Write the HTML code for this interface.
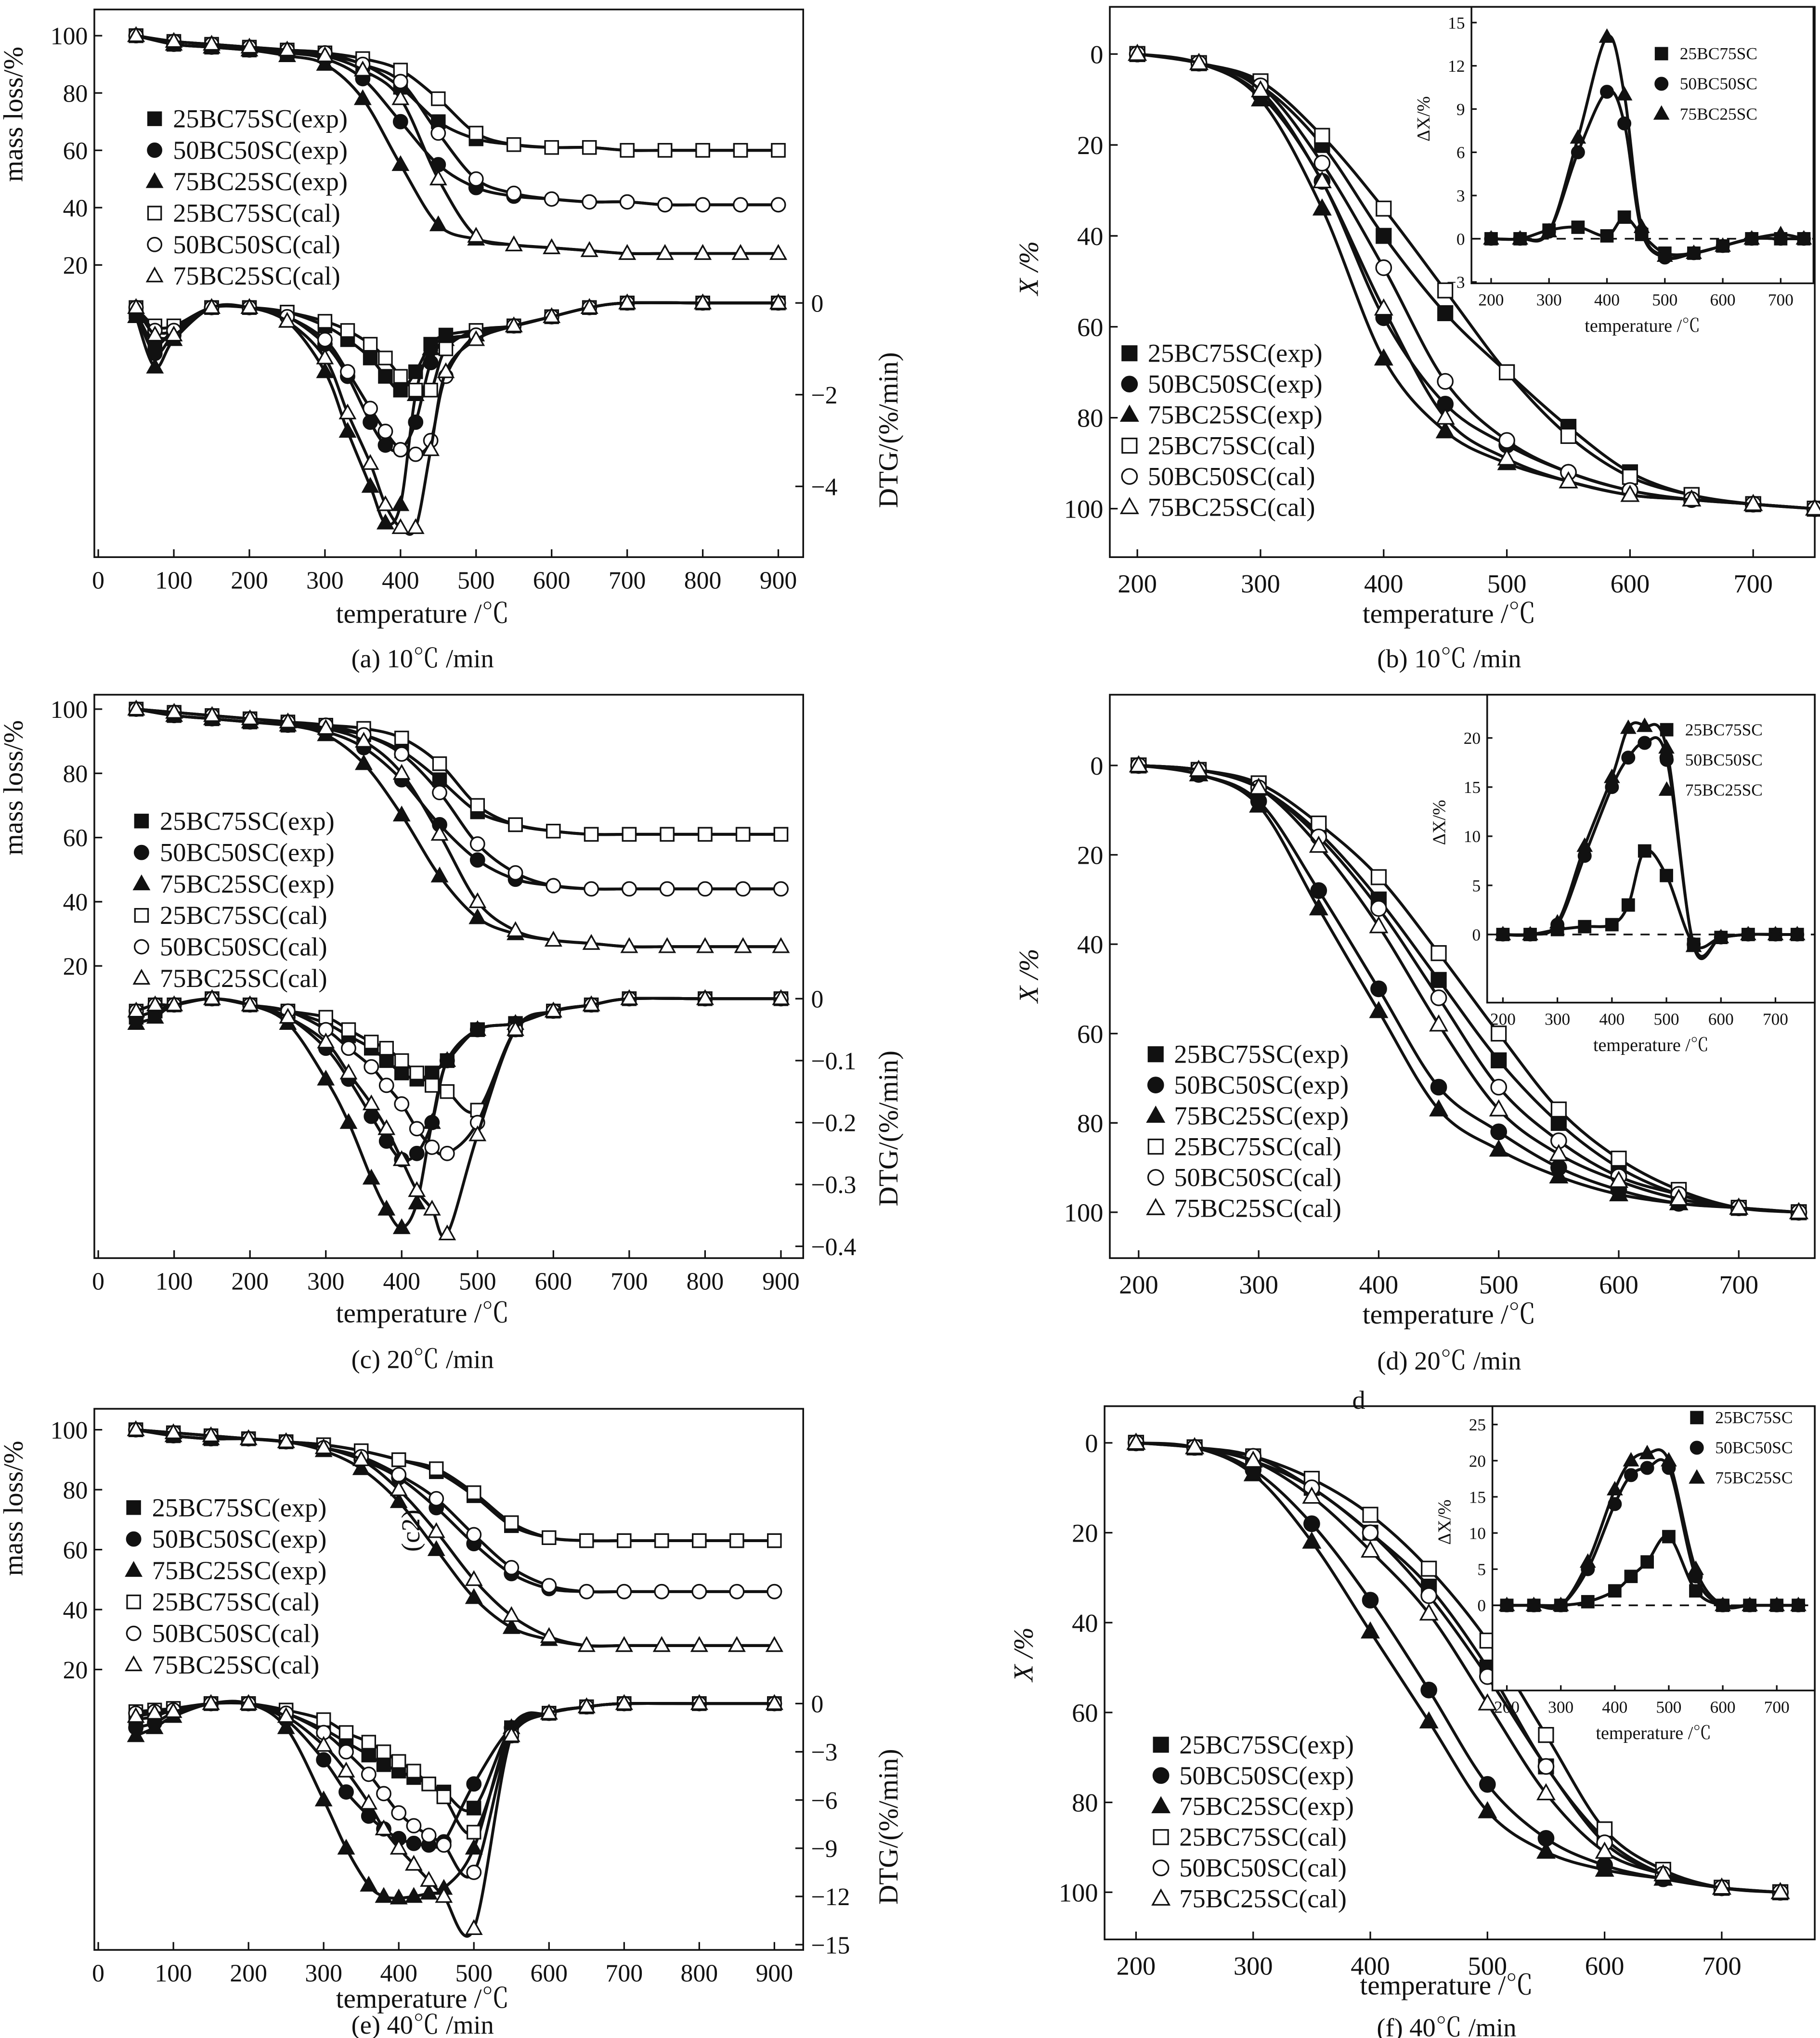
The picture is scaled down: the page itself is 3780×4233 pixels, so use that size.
<!DOCTYPE html>
<html><head><meta charset="utf-8"><style>
html,body{margin:0;padding:0;background:#fff}
svg{display:block}
text{font-family:"Liberation Serif","Noto Serif CJK SC",serif;fill:#111}
</style></head><body>
<svg id="fig" width="3780" height="4233" viewBox="0 0 1389 1555" xmlns="http://www.w3.org/2000/svg"></svg>
<script>
// ---------- DATA ----------
const mlT = [50,100,150,200,250,300,350,400,450,500,550,600,650,700,750,800,850,900];
const dtgT = [50,75,100,150,200,250,300,330,360,380,400,420,440,460,500,550,600,650,700,800,900];
const xT = [200,250,300,350,400,450,500,550,600,650,700,750];
const dxT = [200,250,300,350,400,430,460,500,550,600,650,700,740];
const seriesNames = ["25BC75SC(exp)","50BC50SC(exp)","75BC25SC(exp)","25BC75SC(cal)","50BC50SC(cal)","75BC25SC(cal)"];
const insetNames = ["25BC75SC","50BC50SC","75BC25SC"];
// panel a
const aMass = [
 [100,97,96,95,94,93,90,82,70,64,62,61,61,60,60,60,60,60],
 [100,97,96,95,94,92,85,70,55,47,44,43,42,42,41,41,41,41],
 [100,97,96,95,93,90,78,55,34,29,27,26,25,24,24,24,24,24],
 [100,98,97,96,95,94,92,88,78,66,62,61,61,60,60,60,60,60],
 [100,98,97,96,95,94,90,84,66,50,45,43,42,42,41,41,41,41],
 [100,98,97,96,95,93,88,78,50,30,27,26,25,24,24,24,24,24]];
const aDtg = [
 [-0.2,-0.9,-0.6,-0.1,-0.1,-0.2,-0.5,-0.8,-1.2,-1.6,-1.9,-1.5,-0.9,-0.7,-0.6,-0.5,-0.3,-0.1,0,0,0],
 [-0.2,-1.1,-0.7,-0.1,-0.1,-0.3,-0.9,-1.6,-2.6,-3.1,-3.2,-2.6,-1.3,-0.8,-0.7,-0.5,-0.3,-0.1,0,0,0],
 [-0.3,-1.4,-0.8,-0.1,-0.1,-0.4,-1.5,-2.8,-4.0,-4.8,-4.4,-2.0,-1.0,-0.8,-0.7,-0.5,-0.3,-0.1,0,0,0],
 [-0.1,-0.5,-0.5,-0.1,-0.1,-0.2,-0.4,-0.6,-0.9,-1.2,-1.6,-1.9,-1.9,-1.0,-0.6,-0.5,-0.3,-0.1,0,0,0],
 [-0.1,-0.6,-0.6,-0.1,-0.1,-0.3,-0.8,-1.5,-2.3,-2.8,-3.2,-3.3,-3.0,-1.6,-0.7,-0.5,-0.3,-0.1,0,0,0],
 [-0.1,-0.7,-0.7,-0.1,-0.1,-0.4,-1.2,-2.4,-3.5,-4.4,-4.9,-4.9,-3.2,-1.5,-0.8,-0.5,-0.3,-0.1,0,0,0]];
const bX = [
 [0,2,7,20,40,57,70,82,92,97,99,100],
 [0,2,9,28,58,77,86,92,96,98,99,100],
 [0,2,10,34,67,83,90,94,97,98,99,100],
 [0,2,6,18,34,52,70,84,93,97,99,100],
 [0,2,7,24,47,72,85,92,96,98,99,100],
 [0,2,8,28,56,80,89,94,97,98,99,100]];
const bDx = [
 [0,0,0.6,0.8,0.2,1.5,0.3,-1,-1,-0.5,0,0,0],
 [0,0,0.5,6,10.2,8,0.5,-1.3,-1,-0.5,0,0,0],
 [0,0,0.5,7,14,10,0.8,-1.2,-1,-0.5,0,0.3,0]];
// panel c
const cMass = [
 [100,98,97,96,95,94,92,87,78,68,64,62,61,61,61,61,61,61],
 [100,98,97,96,95,93,88,78,64,53,47,45,44,44,44,44,44,44],
 [100,98,97,96,95,92,83,67,48,35,30,28,27,26,26,26,26,26],
 [100,99,98,97,96,95,94,91,83,70,64,62,61,61,61,61,61,61],
 [100,99,98,97,96,95,92,86,74,58,49,45,44,44,44,44,44,44],
 [100,99,98,97,96,94,90,80,61,40,31,28,27,26,26,26,26,26]];
const cDtg = [
 [-0.03,-0.02,-0.01,0,-0.01,-0.02,-0.04,-0.06,-0.08,-0.1,-0.12,-0.13,-0.12,-0.1,-0.05,-0.04,-0.02,-0.01,0,0,0],
 [-0.03,-0.02,-0.01,0,-0.01,-0.03,-0.08,-0.13,-0.19,-0.23,-0.26,-0.25,-0.2,-0.1,-0.05,-0.04,-0.02,-0.01,0,0,0],
 [-0.04,-0.03,-0.01,0,-0.01,-0.04,-0.13,-0.2,-0.29,-0.34,-0.37,-0.33,-0.2,-0.1,-0.05,-0.04,-0.02,-0.01,0,0,0],
 [-0.02,-0.01,-0.01,0,-0.01,-0.02,-0.03,-0.05,-0.07,-0.08,-0.1,-0.12,-0.14,-0.15,-0.18,-0.05,-0.02,-0.01,0,0,0],
 [-0.02,-0.01,-0.01,0,-0.01,-0.02,-0.05,-0.08,-0.11,-0.14,-0.17,-0.21,-0.24,-0.25,-0.2,-0.05,-0.02,-0.01,0,0,0],
 [-0.02,-0.01,-0.01,0,-0.01,-0.03,-0.07,-0.12,-0.17,-0.21,-0.26,-0.31,-0.34,-0.38,-0.22,-0.05,-0.02,-0.01,0,0,0]];
const dX = [
 [0,1,5,15,30,48,66,80,90,96,99,100],
 [0,2,8,28,50,72,82,90,95,98,99,100],
 [0,2,9,32,55,77,86,92,96,98,99,100],
 [0,1,4,13,25,42,60,77,88,95,99,100],
 [0,1,5,16,32,52,72,84,92,96,99,100],
 [0,1,5,18,36,58,77,87,93,97,99,100]];
const dDx = [
 [0,0,0.5,0.8,1,3,8.5,6,-1,-0.3,0,0,0],
 [0,0,1,8,15,18,19.5,18,-1,-0.3,0,0,0],
 [0,0,1.2,9,16,21,21.2,19,-1.2,-0.3,0,0,0]];
// panel e
const eMass = [
 [100,98,97,97,96,95,93,90,86,78,68,64,63,63,63,63,63,63],
 [100,98,97,97,96,94,90,84,74,62,52,47,46,46,46,46,46,46],
 [100,98,97,97,96,93,87,76,60,44,34,30,28,28,28,28,28,28],
 [100,99,98,97,96,95,93,90,87,79,69,64,63,63,63,63,63,63],
 [100,99,98,97,96,94,91,85,77,65,54,48,46,46,46,46,46,46],
 [100,99,98,97,96,94,90,80,66,50,38,31,28,28,28,28,28,28]];
const eDtg = [
 [-1,-0.8,-0.4,0,0,-0.6,-1.6,-2.4,-3.2,-3.8,-4.2,-4.6,-5,-5.5,-6.5,-1.5,-0.6,-0.2,0,0,0],
 [-1.5,-1.2,-0.6,0,0,-1,-3.5,-5.5,-7,-7.8,-8.4,-8.7,-8.8,-8.6,-5,-1.5,-0.6,-0.2,0,0,0],
 [-2,-1.5,-0.8,0,0,-1.5,-6,-9,-11.3,-12,-12.1,-12,-11.8,-11.5,-9,-1.5,-0.6,-0.2,0,0,0],
 [-0.5,-0.4,-0.3,0,0,-0.4,-1,-1.8,-2.4,-3,-3.6,-4.2,-5,-5.8,-8,-2,-0.6,-0.2,0,0,0],
 [-0.6,-0.5,-0.4,0,0,-0.6,-1.8,-3,-4.4,-5.6,-6.8,-7.6,-8.2,-8.8,-10.5,-2,-0.6,-0.2,0,0,0],
 [-0.8,-0.6,-0.5,0,0,-0.8,-2.6,-4.2,-6.2,-7.8,-9,-10,-11,-12,-14,-2,-0.6,-0.2,0,0,0]];
const fX = [
 [0,1,4,10,20,32,50,72,88,96,99,100],
 [0,1,6,18,35,55,76,88,94,97,99,100],
 [0,1,7,22,42,62,82,91,95,97,99,100],
 [0,1,3,8,16,28,44,65,86,95,99,100],
 [0,1,3,10,20,34,52,72,89,96,99,100],
 [0,1,4,12,24,38,58,78,91,96,99,100]];
const fDx = [
 [0,0,0,0.5,2,4,6,9.5,2,0,0,0,0],
 [0,0,0,5,14,18,19,19,4,0,0,0,0],
 [0,0,0,6,16,20,21,20,5,0,0,0,0]];

// ---------- DRAW ----------
const svg = document.getElementById('fig');
const NS = 'http://www.w3.org/2000/svg';
function el(tag, attrs, parent){
  const e = document.createElementNS(NS, tag);
  for (const k in attrs) e.setAttribute(k, attrs[k]);
  (parent||svg).appendChild(e); return e;
}
function txt(x,y,s,size,anchor,parent,extra){
  const t = el('text',Object.assign({x:x,y:y,'font-size':size,'text-anchor':anchor||'middle'},extra||{}),parent);
  t.textContent = s; return t;
}
function lin(d0,d1,r0,r1){ return v => r0 + (v-d0)*(r1-r0)/(d1-d0); }
function marker(g,type,x,y,s){
  const filled = type<3, k=type%3;
  const st = {fill: filled?'#111':'#fff', stroke:'#111','stroke-width':1.2};
  let m;
  if(k===0) m = el('rect',Object.assign({x:x-s,y:y-s,width:2*s,height:2*s},st),g);
  else if(k===1) m = el('circle',Object.assign({cx:x,cy:y,r:s*1.05},st),g);
  else m = el('polygon',Object.assign({points:`${x},${y-s*1.2} ${x-s*1.15},${y+s*0.85} ${x+s*1.15},${y+s*0.85}`},st),g);
  
  
}
function series(g,xs,ys,sx,sy,type,s,name){
  const sg = el('g',{},g);
  
  
  const pts = xs.map((v,i)=>[sx(v),sy(ys[i])]);
  let d = 'M'+pts[0][0]+','+pts[0][1];
  for(let i=1;i<pts.length;i++){
    const p0=pts[Math.max(i-2,0)],p1=pts[i-1],p2=pts[i],p3=pts[Math.min(i+1,pts.length-1)];
    d+=` C${p1[0]+(p2[0]-p0[0])/6},${p1[1]+(p2[1]-p0[1])/6} ${p2[0]-(p3[0]-p1[0])/6},${p2[1]-(p3[1]-p1[1])/6} ${p2[0]},${p2[1]}`;
  }
  el('path',{d:d,fill:'none',stroke:'#111','stroke-width':2.2},sg);
  pts.forEach(p=>marker(sg,type,p[0],p[1],s));
}
function frame(g,x0,y0,x1,y1,name){
  const r = el('rect',{x:x0,y:y0,width:x1-x0,height:y1-y0,fill:'none',stroke:'#111','stroke-width':1.3},g);
  
  
}
function xticks(g,ticks,sx,yb,len,size,off){
  ticks.forEach(t=>{ el('line',{x1:sx(t),x2:sx(t),y1:yb,y2:yb-len,stroke:'#111','stroke-width':1.2},g);
    const l=txt(sx(t),yb+off,String(t),size,'middle',g);
      });
}
function yticks(g,ticks,sy,xl,len,size,side,labels){
  ticks.forEach((t,i)=>{ el('line',{x1:xl,x2:xl+(side==='l'?len:-len),y1:sy(t),y2:sy(t),stroke:'#111','stroke-width':1.2},g);
    const lx = side==='l'? xl-5 : xl+6;
    const l=txt(lx,sy(t)+size*0.35,labels?labels[i]:String(t),size,side==='l'?'end':'start',g);
      });
}
function legend(g,names,x,y,dy,size,ms,types){
  names.forEach((n,i)=>{ marker(g,types?types[i]:i,x,y+i*dy-size*0.33,ms);
    const l=txt(x+14,y+i*dy,n,size,'start',g);
      });
}

// TGA panels
function tgaPanel(cfg){
  const g = el('g',{});  
  frame(g,cfg.bx0,cfg.by0,cfg.bx1,cfg.by1,'plot-frame');
  const sx = lin(0,900,cfg.x0,cfg.x900);
  const sy = lin(100,20,cfg.y100,cfg.y20);
  const sd = lin(0,cfg.dtgRef,cfg.d0,cfg.dRef);
  xticks(g,[0,100,200,300,400,500,600,700,800,900],sx,cfg.by1,6,19,24);
  yticks(g,[100,80,60,40,20],sy,cfg.bx0,6,19,'l');
  yticks(g,cfg.dTicks,sd,cfg.bx1,6,19,'r',cfg.dLabels);
  cfg.mass.forEach((ys,i)=>series(g,mlT,ys,sx,sy,i,5,'mass-'+seriesNames[i]));
  cfg.dtg.forEach((ys,i)=>series(g,dtgT,ys,sx,sd,i,5,'dtg-'+seriesNames[i]));
  legend(g,seriesNames,cfg.lx,cfg.ly,24,20,5);
  let t = txt((cfg.bx0+cfg.bx1)/2-20,cfg.by1+cfg.tOff,'temperature /℃',21,'middle',g);  
  t = txt(0,0,'mass loss/%',21,'middle',g,{transform:`translate(${cfg.bx0-55},${cfg.y100+60}) rotate(-90)`});  
  t = txt(0,0,'DTG/(%/min)',21,'middle',g,{transform:`translate(${cfg.bx1+72},${(cfg.d0+cfg.by1)/2}) rotate(-90)`});  
  t = txt((cfg.bx0+cfg.bx1)/2-20,cfg.by1+cfg.cOff,cfg.caption,20,'middle',g);  
}
tgaPanel({name:'panel-a',bx0:72,by0:7,bx1:613,by1:425,x0:75,x900:594,y100:27,y20:202,d0:231,dtgRef:-4,dRef:371,tOff:50,cOff:84,
  dTicks:[0,-2,-4],dLabels:['0','−2','−4'],mass:aMass,dtg:aDtg,lx:118,ly:97,caption:'(a) 10℃ /min'});
tgaPanel({name:'panel-c',bx0:72,by0:530,bx1:613,by1:960,x0:75,x900:596,y100:541,y20:737,d0:762,dtgRef:-0.4,dRef:951,tOff:49,cOff:84,
  dTicks:[0,-0.1,-0.2,-0.3,-0.4],dLabels:['0','−0.1','−0.2','−0.3','−0.4'],mass:cMass,dtg:cDtg,lx:108,ly:633,caption:'(c) 20℃ /min'});
tgaPanel({name:'panel-e',bx0:72,by0:1075,bx1:613,by1:1488,x0:75,x900:591,y100:1091,y20:1274,d0:1300,dtgRef:-15,dRef:1484,tOff:44,cOff:64,
  dTicks:[0,-3,-6,-9,-12,-15],dLabels:['0','−3','−6','−9','−12','−15'],mass:eMass,dtg:eDtg,lx:102,ly:1157,caption:'(e) 40℃ /min'});
(function(){ const t=txt(320,1168,'(c2)',20,'middle',svg,{transform:'rotate(-90 320 1168)'});  })();

// conversion panels
function xPanel(cfg){
  const g = el('g',{});  
  frame(g,cfg.bx0,cfg.by0,cfg.bx1,cfg.by1,'plot-frame');
  const sx = lin(200,700,cfg.x200,cfg.x700);
  const sy = lin(0,100,cfg.y0,cfg.y100);
  xticks(g,[200,300,400,500,600,700],sx,cfg.by1,6,20,27);
  yticks(g,[0,20,40,60,80,100],sy,cfg.bx0,6,20,'l');
  cfg.X.forEach((ys,i)=>series(g,xT,ys,sx,sy,i,5.5,'conv-'+seriesNames[i]));
  legend(g,seriesNames,cfg.lx,cfg.ly,23.5,20,5.5);
  let t = txt((cfg.bx0+cfg.bx1)/2-10,cfg.by1+cfg.tOff,'temperature /℃',21,'middle',g);  
  t = txt(0,0,'X /%',21,'middle',g,{transform:`translate(${cfg.bx0-55},${(cfg.y0+cfg.y100)/2-10}) rotate(-90)`,'font-style':'italic'});  
  t = txt((cfg.bx0+cfg.bx1)/2-10,cfg.by1+cfg.cOff,cfg.caption,20,'middle',g);  
  // inset
  const ig = el('g',{},g);  
  el('rect',{x:cfg.ix0,y:cfg.iy0,width:cfg.ix1-cfg.ix0,height:cfg.iy1-cfg.iy0,fill:'#fff',stroke:'#111','stroke-width':1.3},ig);
  const ix = lin(200,700,cfg.ix200,cfg.ix700);
  const iy = lin(0,cfg.iRef,cfg.iy0v,cfg.iyRef);
  xticks(ig,[200,300,400,500,600,700],ix,cfg.iy1,4,13,17);
  yticks(ig,cfg.iTicks,iy,cfg.ix0,4,13,'l',cfg.iTicks.map(v=>v<0?'−'+(-v):String(v)));
  el('line',{x1:cfg.ix0,x2:cfg.ix1,y1:iy(0),y2:iy(0),stroke:'#111','stroke-width':1.3,'stroke-dasharray':'7,6'},ig);
  cfg.DX.forEach((ys,i)=>series(ig,dxT,ys,ix,iy,i,4.5,'delta-'+insetNames[i]));
  legend(ig,insetNames,cfg.ilx,cfg.ily,23,13,4.5);
  t = txt((cfg.ix0+cfg.ix1)/2,cfg.iy1+37,'temperature /℃',14,'middle',ig);  
  t = txt(0,0,'ΔX/%',14,'middle',ig,{transform:`translate(${cfg.ix0-32},${(cfg.iy0+cfg.iy1)/2-20}) rotate(-90)`});  
}
xPanel({name:'panel-b',bx0:847,by0:5,bx1:1385,by1:425,x200:868,x700:1338,y0:41,y100:388,X:bX,lx:862,ly:276,caption:'(b) 10℃ /min',tOff:50,cOff:84,
  ix0:1123,iy0:5,ix1:1384,iy1:216,ix200:1138,ix700:1359,iy0v:182,iRef:15,iyRef:17,iTicks:[15,12,9,6,3,0,-3],DX:bDx,ilx:1268,ily:45});
xPanel({name:'panel-d',bx0:847,by0:530,bx1:1385,by1:960,x200:869,x700:1327,y0:584,y100:925,X:dX,lx:882,ly:811,caption:'(d) 20℃ /min',tOff:50,cOff:85,
  ix0:1135,iy0:530,ix1:1385,iy1:765,ix200:1147,ix700:1355,iy0v:713,iRef:20,iyRef:563,iTicks:[20,15,10,5,0],DX:dDx,ilx:1272,ily:561});
xPanel({name:'panel-f',bx0:843,by0:1073,bx1:1385,by1:1480,x200:867,x700:1314,y0:1101,y100:1444,X:fX,lx:886,ly:1338,caption:'(f) 40℃ /min',tOff:42,cOff:74,
  ix0:1139,iy0:1073,ix1:1385,iy1:1290,ix200:1150,ix700:1356,iy0v:1225,iRef:25,iyRef:1087,iTicks:[25,20,15,10,5,0],DX:fDx,ilx:1295,ily:1086});
(function(){ const t=txt(1037,1075,'d',20,'middle');  })();
</script>
</body></html>
